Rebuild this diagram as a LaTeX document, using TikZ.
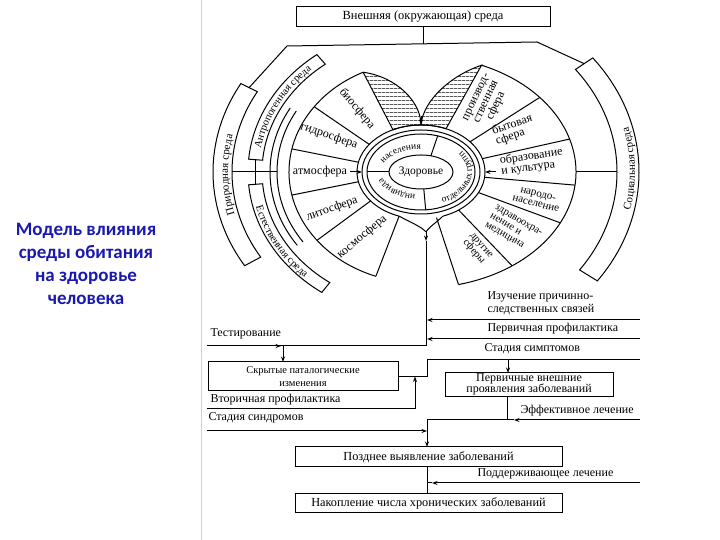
\documentclass[tikz,border=0pt]{standalone}
\usepackage{fontspec}
\setmainfont{Liberation Serif}
\newfontfamily\titlefont{Carlito}
\usetikzlibrary{arrows.meta,decorations.text,patterns.meta,calc}
\definecolor{titleblue}{RGB}{25,25,175}
\newcommand{\myband}[6]{\draw ($(C)+(#1:#3 and #4)$) arc[start angle=#1,end angle=#2,x radius=#3,y radius=#4] -- ($(C)+(#2:#5 and #6)$) arc[start angle=#2,end angle=#1,x radius=#5,y radius=#6] -- cycle;}
\newcommand{\myarc}[4]{\draw ($(C)+(#1:#3 and #4)$) arc[start angle=#1,end angle=#2,x radius=#3,y radius=#4];}
\newcommand{\myray}[5]{\draw ($(C)+(#1:#2 and #3)$) -- ($(C)+(#1:#4 and #5)$);}
\newcommand{\bandfont}{\fontsize{10.5}{10.5}\selectfont}
\newcommand{\ringfont}{\fontsize{9.5}{9.5}\selectfont}
\begin{document}
\begin{tikzpicture}[x=1pt,y=1pt,line width=1pt,
  lbl/.style={font=\fontsize{12}{11}\selectfont, inner sep=0pt},
  slbl/.style={font=\fontsize{11}{10}\selectfont, inner sep=0pt},
  flow/.style={font=\fontsize{12}{13}\selectfont, inner sep=0pt, anchor=base west},
  boxtxt/.style={draw, font=\fontsize{12.3}{13}\selectfont, align=center, inner sep=1pt},
  arr/.style={-{Stealth[length=5.5pt,width=4pt]}}
]
\useasboundingbox (0,0) rectangle (720,540);
\draw[gray!35,line width=0.6pt] (201,0) -- (201,540);
\coordinate (C) at (421,368);

% title
\node[font=\titlefont\bfseries\fontsize{19}{23}\selectfont, text=titleblue, align=center] (title) at (86,276) {Модель влияния\\среды обитания\\на здоровье\\человека};

% top box
\node[boxtxt, font=\fontsize{12.5}{13}\selectfont, minimum width=254pt, minimum height=20pt] (ext) at (423,523) {Внешняя (окружающая) среда};
\coordinate (pl) at ($(C)+(150:198.5 and 168.7)$);
\coordinate (pr) at ($(C)+(38:207 and 176)$);
\coordinate (tl) at (287,494);
\coordinate (tr) at (537,498);
\draw (pl) -- (tl) -- (tr) -- (pr);
\draw (ext.south) -- (423,496.2);

% outer bands
\myband{150}{212}{189}{160.65}{208}{176.8}
\myband{127}{175}{159}{135}{173}{147}
\myband{185}{235}{159}{135}{173}{147}
\myband{-36}{38}{196}{166.6}{218}{185.3}
\draw (255.6,380.2) -- (255.6,355.8);
\draw (232,368) -- (277,368);
\myarc{150}{215}{144}{122}
\myarc{150}{215}{151}{128}
\draw (576,368) -- (617,368);

\path[decorate, decoration={text along path, text={|\fontsize{11}{11}\selectfont|Природная среда}, text align=center}]
  ($(C)+(212:193 and 164)$) arc[start angle=212, end angle=150, x radius=193, y radius=164];
\path[decorate, decoration={text along path, text={|\bandfont|Антропогенная среда}, text align=center}]
  ($(C)+(176:162.5 and 138)$) arc[start angle=176, end angle=127, x radius=162.5, y radius=138];
\path[decorate, decoration={text along path, text={|\bandfont|Естественная среда}, text align=center}]
  ($(C)+(185:170 and 144.5)$) arc[start angle=185, end angle=235, x radius=170, y radius=144.5];
\path[decorate, decoration={text along path, text={|\fontsize{11}{11}\selectfont|Социальная среда}, text align=center}]
  ($(C)+(-36:214 and 181.5)$) arc[start angle=-36, end angle=38, x radius=214, y radius=181.5];

% left fan
\myarc{116}{250}{132}{111}
\myray{144}{64}{47}{132}{111}
\myray{168}{64}{47}{132}{111}
\myray{192}{64}{47}{132}{111}
\myray{218}{64}{47}{132}{111}
\myray{250}{64}{47}{132}{111}
% right fan
\myarc{67}{-76}{155}{116}
\myray{40}{64}{47}{155}{116}
\myray{16.5}{64}{47}{155}{116}
\myray{-6.5}{64}{47}{155}{116}
\myray{-26}{64}{47}{155}{116}
\myray{-54}{64}{47}{155}{116}
\myray{-76}{64}{47}{155}{116}

% hatched leaves
\coordinate (L) at ($(C)+(116:132 and 111)$);
\coordinate (R) at ($(C)+(67:155 and 116)$);
\coordinate (cuspT) at ($(C)+(90:64 and 47)$);
\draw[pattern={Lines[angle=0,distance=4pt,line width=0.6pt]}] (L) -- ($(C)+(116:64 and 47)$) arc[start angle=116, end angle=90, x radius=64, y radius=47] .. controls (421,438) and (397,463) .. (L);
\draw[pattern={Lines[angle=0,distance=4pt,line width=0.6pt]}] (cuspT) .. controls (423,440) and (452,465) .. (R) -- ($(C)+(67:64 and 47)$) arc[start angle=67, end angle=90, x radius=64, y radius=47];
\draw[arr] (421,424) -- (cuspT);

% rings
\draw (C) ellipse[x radius=32, y radius=17];
\draw (C) ellipse[x radius=54, y radius=38];
\draw (C) ellipse[x radius=59, y radius=42];
\myarc{290}{610}{64}{47}
\coordinate (cusp) at (426,308);
\draw ($(C)+(250:64 and 47)$) .. controls (410,318) and (422,313) .. (cusp);
\draw ($(C)+(290:64 and 47)$) .. controls (437,318) and (429,313) .. (cusp);
\myray{180}{32}{17}{54}{38}
\myray{72}{32}{17}{54}{38}
\myray{-85}{32}{17}{54}{38}
\draw[arr] (350,368) -- (362,368);
\draw[arr] (496,368) -- (485,368);

\node[font=\fontsize{11.5}{11.5}\selectfont] (zd) at (C) {Здоровье};
\path[decorate, decoration={text along path, text={|\ringfont|населения}, text align=center}]
  ($(C)+(175:40 and 23)$) arc[start angle=175, end angle=80, x radius=40, y radius=23];
\path[decorate, decoration={text along path, text={|\ringfont|индивида}, text align=center}]
  ($(C)+(268:40 and 23)$) arc[start angle=268, end angle=185, x radius=40, y radius=23];
\path[decorate, decoration={text along path, text={|\ringfont|отдельных групп}, text align=center}]
  ($(C)+(-85:51 and 34)$) arc[start angle=-85, end angle=60, x radius=51, y radius=34];

% fan labels
\node[lbl, rotate=-50] (bio) at (357,431) {биосфера};
\node[lbl, rotate=-19] (gidro) at (329,404) {гидросфера};
\node[lbl] (atmo) at (320,368) {атмосфера};
\node[lbl, rotate=20] (lito) at (332,331) {литосфера};
\node[lbl, rotate=40] (kosmo) at (362,303) {космосфера};
\node[lbl, rotate=65, align=center] (prod) at (487,438) {производ-\\ственная\\сфера};
\node[lbl, rotate=19, align=left] (byt) at (514,410) {бытовая\\сфера};
\node[lbl, rotate=8, align=left] (obr) at (532,378) {образование\\и культура};
\node[slbl, rotate=-14, align=center] (nar) at (537,341) {народо-\\население};
\node[slbl, font=\fontsize{10.5}{10}\selectfont, rotate=-30, align=left, anchor=north west] (zdr) at (497,336) {здравоохра-\\нение и\\медицина};
\node[slbl, font=\fontsize{10.5}{10}\selectfont, rotate=-50, align=center] (drug) at (477,291) {другие\\сферы};

% flow part
\coordinate (tj) at (426,194);
\draw[arr] (cusp) -- (426,299);
\draw (426,299) -- (tj) -- (207,194);
\draw[arr] (640,220) -- (427,220);
\draw[arr] (640,201) -- (427,201);
\node[flow] at (487,240) {Изучение причинно-};
\node[flow] at (487,227) {следственных связей};
\node[flow] at (487,208) {Первичная профилактика};
\node[flow] at (210,203) {Тестирование};
\draw[arr] (266,194) -- (281,194);

\node[boxtxt, font=\fontsize{10.5}{12.5}\selectfont, minimum width=190pt, minimum height=29pt] (box1) at (303,163.5) {Скрытые паталогические\\изменения};
\draw[arr] (283,194) -- (283,178);
\node[boxtxt, font=\fontsize{12}{11.5}\selectfont, minimum width=168pt, minimum height=23pt] (box2) at (529,155.5) {Первичные внешние\\проявления заболеваний};
\draw (box1.east) -- (427,163.5) -- (427,180) -- (640,180);
\node[flow] at (484,188) {Стадия симптомов};
\draw[arr] (508,180) -- (508,167);
\node[flow] at (210,137.5) {Вторичная профилактика};
\draw[arr] (207,131) -- (415,131) -- (415,163.5);
\draw (507,144) -- (507,120);
\draw[arr] (640,120) -- (514,120);
\draw (514,120) -- (427,120);
\node[flow] at (520,126.5) {Эффективное лечение};
\node[flow] at (208,119) {Стадия синдромов};
\draw[arr] (207,109) -- (427,109);
\node[boxtxt, minimum width=267pt, minimum height=20pt] (box3) at (428.5,83) {Позднее выявление заболеваний};
\draw[arr] (427,120) -- (427,93);
\node[boxtxt, minimum width=267pt, minimum height=19pt] (box4) at (428.5,36.5) {Накопление числа хронических заболеваний};
\draw (427,73) -- (427,46);
\node[flow] at (477,63) {Поддерживающее лечение};
\draw[arr] (640,57) -- (432,57);
\draw (432,57) -- (427,57);
\end{tikzpicture}
\end{document}
